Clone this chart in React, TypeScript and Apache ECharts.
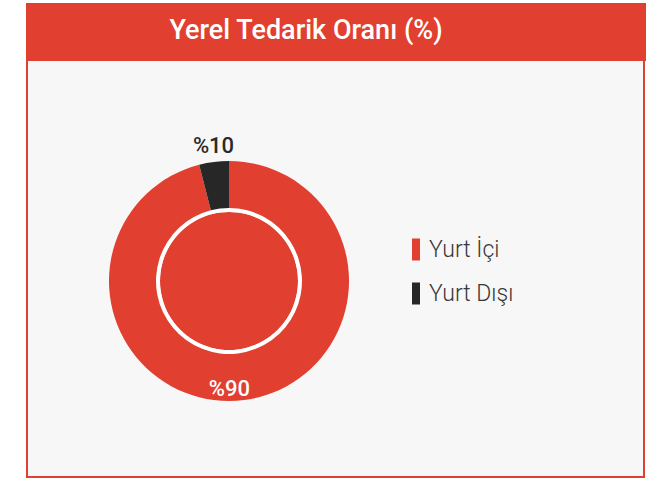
import React, { useEffect, useRef } from "react";
import * as echarts from "echarts";

const title = "Yerel Tedarik Oranı (%)";
const categories = ["Yurt İçi", "Yurt Dışı"];
// percentages as printed on the labels
const labelPercents = [90, 10];
// share of the ring as drawn in the picture
const sliceValues = [96, 4];
const colors = ["#E13F30", "#272727"];

export default function App() {
  const ref = useRef<HTMLDivElement>(null);

  useEffect(() => {
    if (!ref.current) return;
    const chart = echarts.init(ref.current, null, { renderer: "svg" });
    const red = colors[0];
    chart.setOption({
      animation: false,
      backgroundColor: "#ffffff",
      textStyle: { fontFamily: "Roboto" },
      graphic: [
        {
          type: "rect",
          z: -10,
          silent: true,
          shape: { x: 27, y: 4, width: 617, height: 473 },
          style: { fill: "#F7F7F7", stroke: red, lineWidth: 2 },
        },
        {
          type: "rect",
          z: -5,
          silent: true,
          shape: { x: 26, y: 3, width: 620, height: 58 },
          style: { fill: red },
        },
      ],
      title: {
        text: title,
        left: 306,
        top: 16,
        textAlign: "center",
        padding: 0,
        textStyle: {
          color: "#ffffff",
          fontSize: 27,
          fontWeight: 500,
          fontFamily: "Roboto",
        },
      },
      legend: {
        orient: "vertical",
        left: 412,
        top: 238,
        padding: 0,
        itemWidth: 8,
        itemHeight: 22,
        itemGap: 21,
        icon: "rect",
        data: categories,
        selectedMode: false,
        textStyle: {
          color: "#383838",
          fontSize: 23,
          fontWeight: 300,
          fontFamily: "Roboto",
          padding: [0, 0, 0, 4],
        },
      },
      series: [
        {
          type: "pie",
          center: [229, 281],
          radius: [0, 69],
          silent: true,
          z: 1,
          label: { show: false },
          labelLine: { show: false },
          itemStyle: { color: red },
          data: [{ name: "", value: 1 }],
        },
        {
          type: "pie",
          center: [229, 281],
          radius: [69, 73],
          silent: true,
          z: 1,
          label: { show: false },
          labelLine: { show: false },
          itemStyle: { color: "#ffffff" },
          data: [{ name: " ", value: 1 }],
        },
        {
          type: "pie",
          center: [229, 281],
          radius: [73, 120],
          startAngle: 90,
          clockwise: true,
          avoidLabelOverlap: false,
          z: 2,
          label: {
            show: true,
            position: "inside",
            fontSize: 22,
            fontWeight: 500,
            fontFamily: "Roboto",
            formatter: (p: any) => "%" + labelPercents[p.dataIndex],
          },
          labelLine: { show: false },
          labelLayout: (p: any) =>
            p.dataIndex === 0 ? { dx: -12, dy: 9 } : { dx: -3, dy: -37 },
          data: categories.map((name, i) => ({
            name,
            value: sliceValues[i],
            itemStyle: { color: colors[i] },
            label: { color: i === 0 ? "#ffffff" : "#2a2a2a" },
          })),
        },
      ],
    });
    return () => chart.dispose();
  }, []);

  return (
    <div
      ref={ref}
      style={{ position: "absolute", left: 0, top: 0, width: 650, height: 478 }}
    />
  );
}
